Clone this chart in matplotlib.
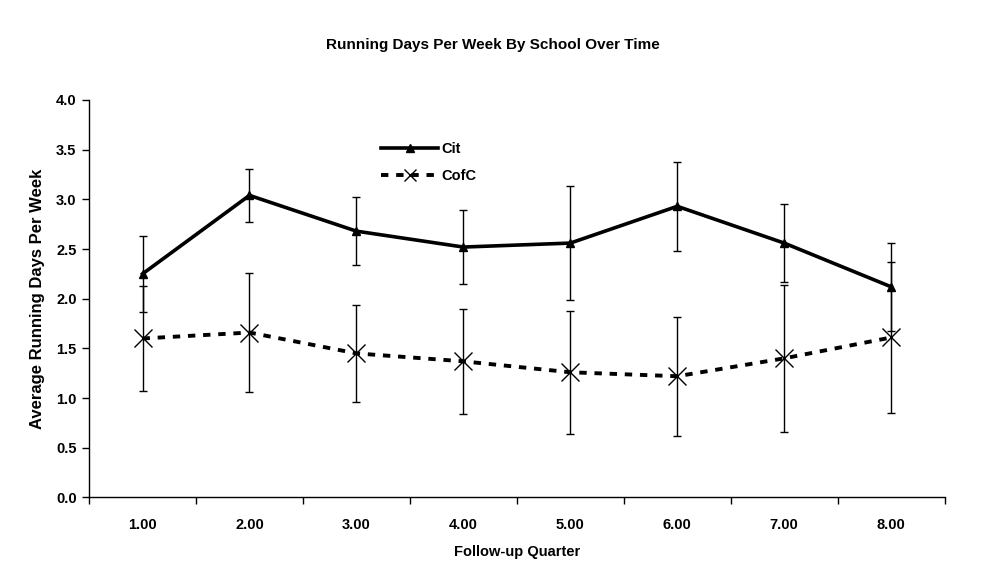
import matplotlib
matplotlib.use("Agg")
import matplotlib.pyplot as plt
import numpy as np

plt.rcParams['font.family'] = ['Liberation Sans', 'DejaVu Sans']

quarters = ["1.00", "2.00", "3.00", "4.00", "5.00", "6.00", "7.00", "8.00"]
cit = [2.25, 3.04, 2.68, 2.52, 2.56, 2.93, 2.56, 2.12]
cit_err = [0.38, 0.27, 0.34, 0.37, 0.57, 0.45, 0.39, 0.44]
cofc = [1.60, 1.66, 1.45, 1.37, 1.26, 1.22, 1.40, 1.61]
cofc_err = [0.53, 0.60, 0.49, 0.53, 0.62, 0.60, 0.74, 0.76]

fig = plt.figure(figsize=(9.85, 5.83), dpi=100)
ax = fig.add_axes([0.0904, 0.1467, 0.8686, 0.6818])

x = np.arange(1, len(quarters) + 1)

# error bars first, lines on top
ax.errorbar(x, cit, yerr=cit_err, fmt='none', ecolor='black', elinewidth=1.0,
            capsize=3, capthick=1.0, zorder=2)
ax.errorbar(x, cofc, yerr=cofc_err, fmt='none', ecolor='black', elinewidth=1.0,
            capsize=3, capthick=1.0, zorder=2)

ax.plot(x, cit, color='black', lw=2.6, marker='^', markersize=6, label='Cit', zorder=3)
ax.plot(x, cofc, color='black', lw=2.8, dashes=(1.9, 2.0), marker='x', markersize=13,
        markeredgewidth=1.0, label='CofC', zorder=3)

ax.set_xlim(0.5, 8.5)
ax.set_ylim(0, 4.0)
ax.set_yticks(np.arange(0, 4.01, 0.5))
ax.set_yticklabels(['%.1f' % v for v in np.arange(0, 4.01, 0.5)])
ax.set_xticks(x)
ax.set_xticklabels(quarters)
ax.set_xticks(np.arange(0.5, 8.6, 1.0), minor=True)
ax.tick_params(axis='x', which='major', length=0, pad=15)
ax.tick_params(axis='x', which='minor', length=5, direction='out', width=1)
ax.tick_params(axis='y', length=5, direction='out', width=1, pad=4)
for lab in ax.get_xticklabels() + ax.get_yticklabels():
    lab.set_fontweight('bold')
    lab.set_fontsize(10.5)

ax.spines['top'].set_visible(False)
ax.spines['right'].set_visible(False)
ax.spines['left'].set_linewidth(1)
ax.spines['bottom'].set_linewidth(1)

ax.set_xlabel('Follow-up Quarter', fontsize=10.5, fontweight='bold', labelpad=9)
ax.set_ylabel('Average Running Days Per Week', fontsize=12, fontweight='bold', labelpad=8)
fig.text(0.5, 0.922, 'Running Days Per Week By School Over Time', ha='center', va='center',
         fontsize=11, fontweight='bold')

leg = ax.legend(loc='upper left', bbox_to_anchor=(0.333, 0.912), frameon=False,
                handlelength=3.9, fontsize=10.5, borderpad=0, labelspacing=0.85,
                handletextpad=0.2)
for t in leg.get_texts():
    t.set_fontweight('bold')
# legend X marker is drawn smaller in the original
leg.legend_handles[1].set_markersize(8)

fig.savefig('out.png', dpi=100)
